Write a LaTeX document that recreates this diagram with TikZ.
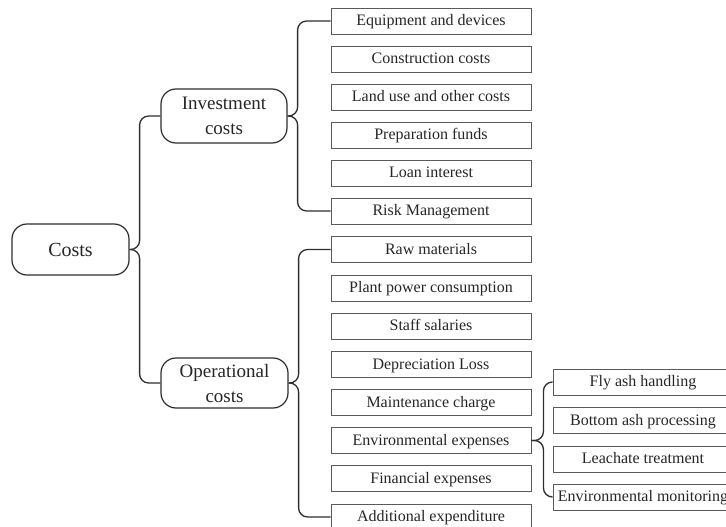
\documentclass[tikz,border=0pt]{standalone}
\usepackage{fontspec}
\setmainfont{Liberation Serif}
\newcommand\bxfont{\fontsize{16}{18}\selectfont}
\newcommand\bigfont{\fontsize{19}{25}\selectfont}
\newcommand\rootfont{\fontsize{20}{24}\selectfont}
\definecolor{dark}{HTML}{2E2E2E}
\definecolor{boxgray}{HTML}{5A5A5A}
\definecolor{txt}{HTML}{262626}
\tikzset{
  leaf/.style={draw=boxgray, line width=0.9pt, minimum width=200pt, minimum height=26pt, inner sep=0pt, text height=9pt, text depth=0pt, font=\bxfont, text=txt},
  subleaf/.style={leaf, minimum width=180pt},
  mid/.style={draw=dark, line width=1.2pt, rounded corners=15pt, inner sep=0pt, align=center, text=txt},
  link/.style={draw=dark, line width=1.3pt, rounded corners=9pt}
}
\begin{document}
\begin{tikzpicture}[x=1pt,y=-1pt]
\useasboundingbox (0,0) rectangle (726,527);
\clip (0,0) rectangle (726,527);
\node[mid, font=\rootfont, minimum width=117pt, minimum height=51pt] (costs) at (70.5,249.5) {Costs};
\node[mid, font=\bigfont, minimum width=126pt, minimum height=54pt] (inv) at (224,116) {Investment\\costs};
\node[mid, font=\bigfont, minimum width=127pt, minimum height=50pt] (op) at (224.5,383) {Operational\\costs};
% investment children
\node[leaf] (i1) at (431,21) {Equipment and devices};
\node[leaf] (i2) at (431,59) {Construction costs};
\node[leaf] (i3) at (431,97) {Land use and other costs};
\node[leaf] (i4) at (431,135) {Preparation funds};
\node[leaf] (i5) at (431,173) {Loan interest};
\node[leaf] (i6) at (431,211) {Risk Management};
% operational children
\node[leaf] (o1) at (431,249.5) {Raw materials};
\node[leaf] (o2) at (431,288) {Plant power consumption};
\node[leaf] (o3) at (431,326) {Staff salaries};
\node[leaf] (o4) at (431,364.5) {Depreciation Loss};
\node[leaf] (o5) at (431,402.5) {Maintenance charge};
\node[leaf] (o6) at (431,440.5) {Environmental expenses};
\node[leaf] (o7) at (431,478.5) {Financial expenses};
\node[leaf] (o8) at (431,517) {Additional expenditure};
% environmental sub-children
\node[subleaf] (s1) at (643,382) {Fly ash handling};
\node[subleaf] (s2) at (643,420.5) {Bottom ash processing};
\node[subleaf] (s3) at (643,459) {Leachate treatment};
\node[subleaf] (s4) at (643,497) {Environmental monitoring};
% connectors
\draw[link] (costs.east) -- ++(10pt,0) |- (inv.west);
\draw[link] (costs.east) -- ++(10pt,0) |- (op.west);
\draw[link] (inv.east) -- ++(10pt,0) |- (i1.west);
\draw[link] (inv.east) -- ++(10pt,0) |- (i6.west);
\draw[link] (op.east) -- ++(10pt,0) |- (o1.west);
\draw[link] (op.east) -- ++(10pt,0) |- (o8.west);
\draw[link] (o6.east) -- ++(12pt,0) |- (s1.west);
\draw[link] (o6.east) -- ++(12pt,0) |- (s4.west);
\end{tikzpicture}
\end{document}
